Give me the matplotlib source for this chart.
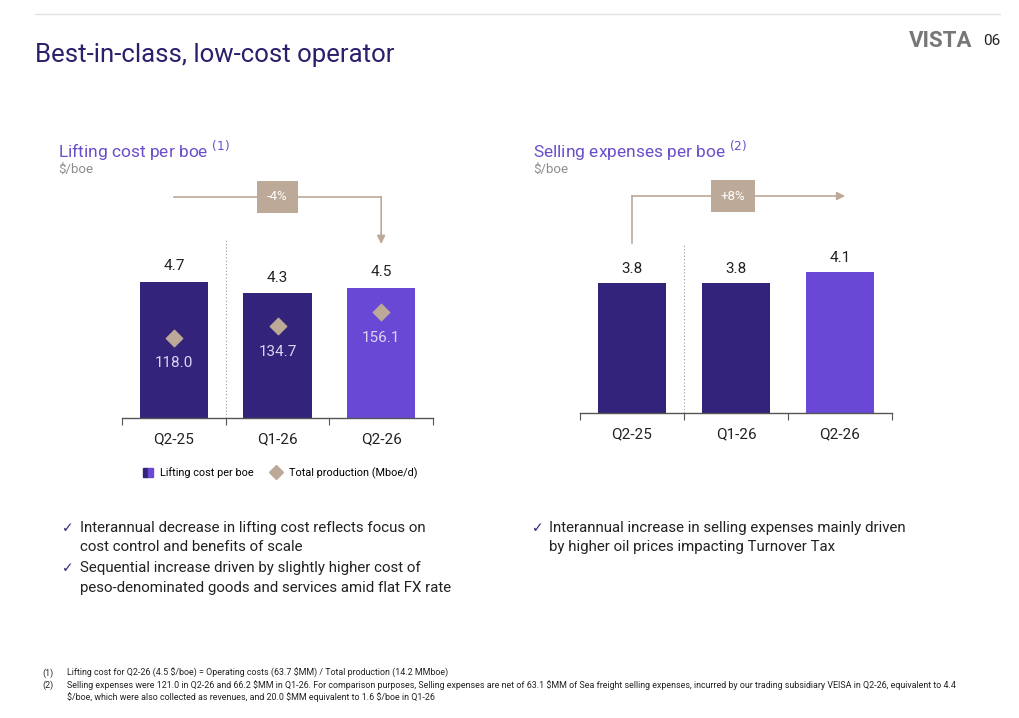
import matplotlib.pyplot as plt
from matplotlib.patches import Patch
from matplotlib.lines import Line2D
from matplotlib.legend_handler import HandlerTuple

plt.rcParams['font.family'] = ['Roboto', 'DejaVu Sans']

quarters = ['Q2-25', 'Q1-26', 'Q2-26']
lifting_cost = [4.7, 4.3, 4.5]
production = [118.0, 134.7, 156.1]
selling_exp = [3.8, 3.8, 4.1]
lifting_change = '-4%'
selling_change = '+8%'

DARK = '#33237A'
PURPLE = '#6A48D6'
TAN = '#BDA998'
TITLE_C = '#2B1F6B'
SUB_C = '#6A4FC9'
GRAY = '#8C8C8C'
TXT = '#222222'

W, H = 1020, 718
fig = plt.figure(figsize=(W / 100, H / 100), dpi=100)


def fx(px):
    return px / W


def fy(py):
    return 1 - py / H


bar_colors = [DARK, DARK, PURPLE]
x = range(len(quarters))


def style_axis(ax, ytop):
    ax.set_xlim(-0.5, 2.5)
    ax.set_ylim(0, ytop)
    for s in ['top', 'right', 'left']:
        ax.spines[s].set_visible(False)
    ax.spines['bottom'].set_color('#555555')
    ax.spines['bottom'].set_linewidth(1)
    ax.set_yticks([])
    ax.set_xticks([-0.5, 0.5, 1.5, 2.5])
    ax.set_xticklabels([])
    ax.tick_params(axis='x', which='major', length=5, direction='out', color='#555555')
    ax.set_xticks(list(x), minor=True)
    ax.set_xticklabels(quarters, minor=True)
    ax.tick_params(axis='x', which='minor', length=0, pad=10, labelsize=11, labelcolor=TXT)
    ax.axvline(0.5, color='#999999', lw=0.8, ls=(0, (1, 2)))
    ax.patch.set_alpha(0)


# ---- left chart: lifting cost
ax1 = fig.add_axes([fx(122), fy(418), fx(433 - 122), (418 - 240) / H])
style_axis(ax1, 178 / 29)
ax1.bar(x, lifting_cost, width=0.66, color=bar_colors, zorder=2)
for i, v in enumerate(lifting_cost):
    ax1.annotate(f'{v:.1f}', (i, v), xytext=(0, 6), textcoords='offset points',
                 ha='center', va='bottom', fontsize=11, color=TXT)

ax1b = ax1.twinx()
ax1b.set_ylim(0, 178 / 0.68)
ax1b.axis('off')
ax1b.scatter(x, production, marker='D', s=70, color=TAN, zorder=3)
for i, v in enumerate(production):
    ax1b.annotate(f'{v:.1f}', (i, v), xytext=(0, -18.5), textcoords='offset points',
                  ha='center', va='center', fontsize=11, color='#DCD4F2')

# arrow -4%
ytop_l = 221 / 29
ax1.plot([0, 2], [ytop_l, ytop_l], color=TAN, lw=1.2, clip_on=False)
ax1.annotate('', xy=(2, 174 / 29), xytext=(2, ytop_l), xycoords='data',
             arrowprops=dict(arrowstyle='-|>', color=TAN, lw=1.2, mutation_scale=12,
                             shrinkA=0, shrinkB=0), annotation_clip=False)
ax1.text(1, ytop_l, lifting_change, ha='center', va='center', fontsize=9.5, color='white',
         bbox=dict(boxstyle='square,pad=0.75', fc=TAN, ec='none'), clip_on=False)

# legend
handles = [(Patch(color=DARK), Patch(color=PURPLE)),
           Line2D([], [], marker='D', ls='none', color=TAN, markersize=7)]
fig.legend(handles, ['Lifting cost per boe', 'Total production (Mboe/d)'],
           handler_map={tuple: HandlerTuple(ndivide=None, pad=0)},
           loc='center', bbox_to_anchor=(fx(280), fy(473)), ncol=2, frameon=False,
           fontsize=7.8, handlelength=0.9, handleheight=0.9, columnspacing=1.6,
           handletextpad=0.7)

# ---- right chart: selling expenses
ax2 = fig.add_axes([fx(580), fy(413), fx(892 - 580), (413 - 243) / H])
style_axis(ax2, 170 / 34.3)
ax2.bar(x, selling_exp, width=0.66, color=bar_colors, zorder=2)
for i, v in enumerate(selling_exp):
    ax2.annotate(f'{v:.1f}', (i, v), xytext=(0, 5), textcoords='offset points',
                 ha='center', va='bottom', fontsize=11, color=TXT)

ytop_r = 217 / 34.3
ax2.plot([0, 0], [170 / 34.3, ytop_r], color=TAN, lw=1.2, clip_on=False)
ax2.annotate('', xy=(2.05, ytop_r), xytext=(0, ytop_r), xycoords='data',
             arrowprops=dict(arrowstyle='-|>', color=TAN, lw=1.2, mutation_scale=12,
                             shrinkA=0, shrinkB=0), annotation_clip=False)
ax2.text(0.97, ytop_r, selling_change, ha='center', va='center', fontsize=9.5, color='white',
         bbox=dict(boxstyle='square,pad=0.75', fc=TAN, ec='none'), clip_on=False)

# ---- header
fig.add_artist(Line2D([fx(35), fx(1000)], [fy(14), fy(14)], color='#E3E3E3', lw=1))
fig.text(fx(35), fy(55), 'Best-in-class, low-cost operator', fontsize=18.5, color=TITLE_C,
         va='center', ha='left')
fig.text(fx(972), fy(41), 'VISTA', fontsize=16, fontweight='bold', color='#777777',
         va='center', ha='right')
fig.text(fx(983), fy(41), '06', fontsize=11, color=TXT, va='center', ha='left')

fig.text(fx(58), fy(151), r'Lifting cost per boe $^{(1)}$', fontsize=12.5, color=SUB_C,
         va='center')
fig.text(fx(58), fy(169), '$/boe', fontsize=9.5, color=GRAY, va='center')
fig.text(fx(533), fy(151), r'Selling expenses per boe $^{(2)}$', fontsize=12.5, color=SUB_C,
         va='center')
fig.text(fx(533), fy(169), '$/boe', fontsize=9.5, color=GRAY, va='center')

# ---- bullets
left_bullets = [('Interannual decrease in lifting cost reflects focus on', 528, True),
                ('cost control and benefits of scale', 547, False),
                ('Sequential increase driven by slightly higher cost of', 568, True),
                ('peso-denominated goods and services amid flat FX rate', 588, False)]
for t, py, chk in left_bullets:
    if chk:
        fig.text(fx(62), fy(py), '✓', fontsize=10, color=DARK, va='center',
                 family=['DejaVu Sans'])
    fig.text(fx(80), fy(py), t, fontsize=10.8, color=TXT, va='center')

right_bullets = [('Interannual increase in selling expenses mainly driven', 528, True),
                 ('by higher oil prices impacting Turnover Tax', 547, False)]
for t, py, chk in right_bullets:
    if chk:
        fig.text(fx(532), fy(py), '✓', fontsize=10, color=DARK, va='center',
                 family=['DejaVu Sans'])
    fig.text(fx(549), fy(py), t, fontsize=10.8, color=TXT, va='center')

# ---- footnotes
notes = [('(1)', 'Lifting cost for Q2-26 (4.5 $/boe) = Operating costs (63.7 $MM) / Total production (14.2 MMboe)', 673),
         ('(2)', 'Selling expenses were 121.0 in Q2-26 and 66.2 $MM in Q1-26. For comparison purposes, Selling expenses are net of 63.1 $MM of Sea freight selling expenses, incurred by our trading subsidiary VEISA in Q2-26, equivalent to 4.4', 685),
         ('', '$/boe, which were also collected as revenues, and 20.0 $MM equivalent to 1.6 $/boe in Q1-26', 697)]
for n, t, py in notes:
    if n:
        fig.text(fx(42), fy(py), n, fontsize=6.4, color=TXT, va='center')
    fig.text(fx(67), fy(py), t.replace('$', r'\$'), fontsize=6.4, color=TXT, va='center')

fig.savefig('out.png', dpi=100)
